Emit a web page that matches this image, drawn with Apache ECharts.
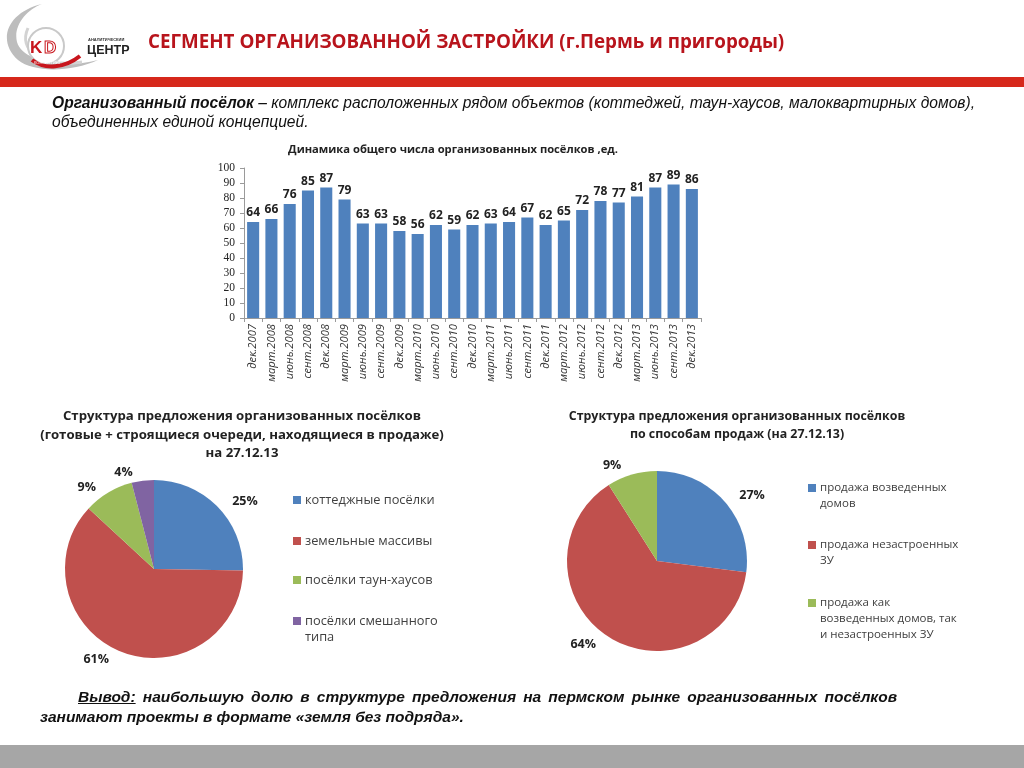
<!DOCTYPE html>
<html><head><meta charset="utf-8">
<script src="https://cdn.jsdelivr.net/npm/echarts@6/dist/echarts.min.js"></script>
<style>
html,body{margin:0;padding:0;background:#fff;}
#wrap{position:relative;width:1024px;height:768px;overflow:hidden;font-family:"Noto Sans",sans-serif;}
#chart{position:absolute;left:0;top:0;width:1024px;height:768px;}
.abs{position:absolute;}
#title{left:148px;top:28px;font-family:"Open Sans","Noto Sans",sans-serif;font-weight:bold;font-size:18.8px;color:#b8141c;white-space:nowrap;}
#redbar{left:0;top:77px;width:1024px;height:10px;background:#d6281b;}
#intro{left:52px;top:93px;width:940px;font-family:"Liberation Sans",Arial,sans-serif;font-style:italic;font-size:15.6px;line-height:19px;color:#111;}
.concl{font-family:"Liberation Sans",Arial,sans-serif;font-style:italic;font-weight:bold;font-size:15.5px;line-height:20px;color:#111;white-space:nowrap;}
#concl1{left:78px;top:687px;width:819px;text-align:justify;text-align-last:justify;white-space:normal;}
#concl2{left:40px;top:707px;}
#graybar{left:0;top:745px;width:1024px;height:23px;background:#a6a6a6;}
</style></head>
<body><div id="wrap">
<div id="chart"></div>
<svg class="abs" style="left:0;top:0" width="140" height="76">
  <path d="M42,4 C8,12 -4,40 18,60 C34,73 72,72 98,60 C60,70 22,60 17,42 C13,26 26,10 42,4 Z" fill="#bdbdbd"/>
  <path d="M28,28 C18,50 40,68 82,62" stroke="#d3d3d3" stroke-width="3" fill="none"/>
  <circle cx="46" cy="46" r="18" fill="#fff" stroke="#c9c9c9" stroke-width="2"/>
  <text x="30" y="53" font-family="Liberation Sans,Arial" font-weight="bold" font-size="17" fill="#c8161d">K</text>
  <text x="44" y="53" font-family="Liberation Sans,Arial" font-weight="bold" font-size="17" fill="#fff" stroke="#c8161d" stroke-width="1">D</text>
  <path d="M32,60 C45,70 65,68 80,56" stroke="#c8161d" stroke-width="4" fill="none"/>
  <text x="34" y="64" font-family="Liberation Sans,Arial" font-size="4" fill="#fff">КОНСАЛТИНГ</text>
  <text x="88" y="41" font-family="Liberation Sans,Arial" font-weight="bold" font-size="4" fill="#333">АНАЛИТИЧЕСКИЙ</text>
  <text x="87" y="54" font-family="Liberation Sans,Arial" font-weight="bold" font-size="12.5" fill="#222">ЦЕНТР</text>
</svg>
<div id="title" class="abs">СЕГМЕНТ ОРГАНИЗОВАННОЙ ЗАСТРОЙКИ (г.Пермь и пригороды)</div>
<div id="redbar" class="abs"></div>
<div id="intro" class="abs"><b>Организованный посёлок</b> – комплекс расположенных рядом объектов (коттеджей, таун-хаусов, малоквартирных домов), объединенных единой концепцией.</div>
<div id="concl1" class="abs concl"><u>Вывод:</u> наибольшую долю в структуре предложения на пермском рынке организованных посёлков</div>
<div id="concl2" class="abs concl">занимают проекты в формате «земля без подряда».</div>
<div id="graybar" class="abs"></div>
</div>
<script>
var categories = ["дек.2007","март.2008","июнь.2008","сент.2008","дек.2008","март.2009","июнь.2009","сент.2009","дек.2009","март.2010","июнь.2010","сент.2010","дек.2010","март.2011","июнь.2011","сент.2011","дек.2011","март.2012","июнь.2012","сент.2012","дек.2012","март.2013","июнь.2013","сент.2013","дек.2013"];
var settlements = [64,66,76,85,87,79,63,63,58,56,62,59,62,63,64,67,62,65,72,78,77,81,87,89,86];
var pie1Names = ["коттеджные посёлки","земельные массивы","посёлки таун-хаусов","посёлки смешанного\nтипа"];
var pie1Values = [25,61,9,4];
var pie2Names = ["продажа возведенных\nдомов","продажа незастроенных\nЗУ","продажа как\nвозведенных домов, так\nи незастроенных ЗУ"];
var pie2Values = [27,64,9];
var barTitle = "Динамика общего числа организованных посёлков ,ед.";
var pie1Title = "Структура предложения организованных посёлков\n(готовые + строящиеся очереди, находящиеся в продаже)\nна 27.12.13";
var pie2Title = "Структура предложения организованных посёлков\nпо способам продаж (на 27.12.13)";

var colors = ["#4f81bd","#c0504d","#9bbb59","#8064a2"];
var chart = echarts.init(document.getElementById('chart'), null, {renderer:'canvas'});
var lblFont = '"Open Sans","Noto Sans",sans-serif';
function pieData(names, vals){ return names.map(function(n,i){return {name:n, value:vals[i], itemStyle:{color:colors[i]}};}); }

// custom legends: square aligned with the first text line
function legendGraphics(names, x, ys, fontSize, lh){
  var els = [];
  names.forEach(function(n,i){
    els.push({type:'rect', left:x, top:ys[i]-4, shape:{width:8,height:8}, style:{fill:colors[i]}, silent:true});
    els.push({type:'text', left:x+12, top:ys[i]-lh/2, style:{text:n, font:fontSize+'px '+lblFont, fill:'#404040', lineHeight:lh}, silent:true});
  });
  return els;
}
var graphics = legendGraphics(pie1Names, 293, [500,541,580,621], 12.8, 16)
  .concat(legendGraphics(pie2Names, 808, [488,545,603], 11.5, 16));

chart.setOption({
  animation:false,
  title:[
    {text:barTitle, left:448, top:139, textAlign:'center', textStyle:{fontFamily:lblFont, fontWeight:'bold', fontSize:11.2, color:'#222'}},
    {text:pie1Title, left:237, top:402, textAlign:'center', textStyle:{fontFamily:lblFont, fontWeight:'bold', fontSize:13.2, lineHeight:18.5, color:'#222'}},
    {text:pie2Title, left:732, top:402, textAlign:'center', textStyle:{fontFamily:lblFont, fontWeight:'bold', fontSize:12.4, lineHeight:18, color:'#222'}}
  ],
  graphic:graphics,
  grid:{left:244, right:323, top:168, bottom:450, containLabel:false},
  xAxis:{type:'category', data:categories,
    axisLine:{lineStyle:{color:'#9a9a9a'}},
    axisTick:{show:true, length:4, lineStyle:{color:'#9a9a9a'}},
    axisLabel:{rotate:90, interval:0, margin:6, fontFamily:lblFont, fontStyle:'italic', fontSize:11.2, color:'#333'}},
  yAxis:{type:'value', min:0, max:100, interval:10,
    axisLine:{show:true, lineStyle:{color:'#9a9a9a'}},
    axisTick:{show:true, length:4, lineStyle:{color:'#9a9a9a'}},
    splitLine:{show:false},
    axisLabel:{margin:9, fontFamily:'"Liberation Serif","DejaVu Serif",serif', fontSize:11.5, color:'#222'}},
  series:[
    {type:'bar', data:settlements, barCategoryGap:'34%', itemStyle:{color:'#4f81bd'},
     label:{show:true, position:'top', distance:3, fontFamily:lblFont, fontWeight:'bold', fontSize:12, color:'#222'}},
    {type:'pie', center:[154,569], radius:89, startAngle:90, clockwise:true, data:pieData(pie1Names,pie1Values),
     label:{show:true, position:'outside', formatter:'{c}%', fontFamily:lblFont, fontWeight:'bold', fontSize:12.5, color:'#222'},
     labelLine:{show:false, length:8, length2:4}, emphasis:{disabled:true}},
    {type:'pie', center:[657,561], radius:90, startAngle:90, clockwise:true, data:pieData(pie2Names,pie2Values),
     label:{show:true, position:'outside', formatter:'{c}%', fontFamily:lblFont, fontWeight:'bold', fontSize:12.5, color:'#222'},
     labelLine:{show:false, length:9, length2:3}, emphasis:{disabled:true}}
  ]
});
</script>
</body></html>
